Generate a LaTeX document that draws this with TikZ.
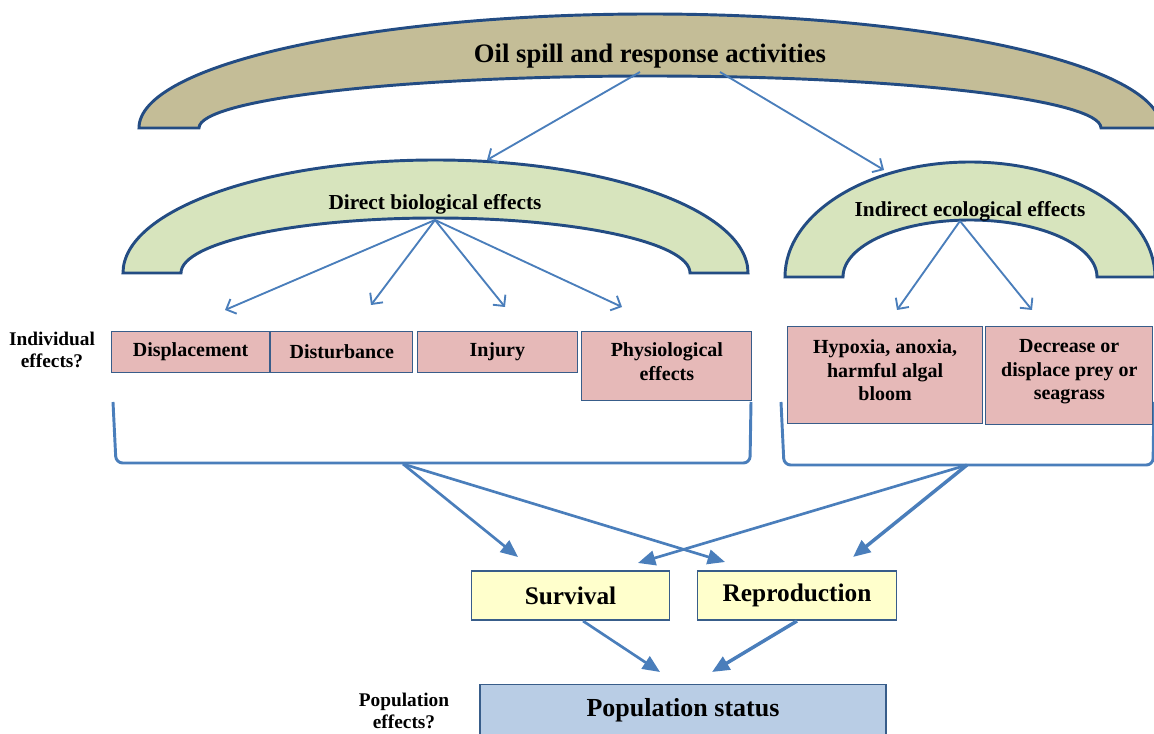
\documentclass[tikz,border=0pt]{standalone}
\usepackage{fontspec}
\setmainfont{Liberation Serif}
\usepackage{xcolor}
\usepackage{tikz}
\usetikzlibrary{positioning}
\usetikzlibrary{arrows.meta}
\definecolor{archline}{RGB}{35,76,131}
\definecolor{arrowblue}{RGB}{74,126,187}
\definecolor{tanfill}{RGB}{196,189,151}
\definecolor{greenfill}{RGB}{215,228,189}
\definecolor{pinkfill}{RGB}{230,185,184}
\definecolor{yellowfill}{RGB}{255,255,204}
\definecolor{popfill}{RGB}{185,205,229}
\definecolor{boxline}{RGB}{56,93,138}
\tikzstyle{arch} = [line width=2.2pt,draw=archline]
\tikzstyle{bracket} = [line width=2.2pt,draw=arrowblue,rounded corners=5pt]
\tikzstyle{arrow} = [line width=1.4pt,draw=arrowblue,-{Straight Barb[length=6pt,width=12pt]}]
\tikzstyle{bigarrow} = [line width=2pt,draw=arrowblue,-{Triangle[length=13pt,width=11pt]}]
\tikzstyle{pinkbox} = [draw=boxline,fill=pinkfill,line width=0.9pt,inner sep=0pt,align=center,font=\fontsize{15}{17.6}\selectfont\bfseries]
\tikzstyle{fitbox} = [draw=boxline,fill=yellowfill,line width=0.9pt,inner sep=0pt,minimum width=149pt,minimum height=36.75pt,font=\fontsize{19}{22}\selectfont\bfseries]
\tikzstyle{sidelabel} = [align=center,inner sep=0pt,font=\fontsize{14.5}{17}\selectfont\bfseries]

\begin{document}
\begin{tikzpicture}[x=0.75pt,y=-0.75pt]
\useasboundingbox (0,0) rectangle (1154,734);

%Arches
\filldraw[arch,fill=tanfill] (139,128) arc[start angle=180,end angle=360,x radius=511,y radius=114] -- (1101,128) arc[start angle=0,end angle=-180,x radius=451,y radius=52] -- cycle;
\filldraw[arch,fill=greenfill] (123,273) arc[start angle=180,end angle=360,x radius=312.5,y radius=113] -- (690,273) arc[start angle=0,end angle=-180,x radius=254.5,y radius=55] -- cycle;
\filldraw[arch,fill=greenfill] (785,277) arc[start angle=180,end angle=360,x radius=185,y radius=115] -- (1097,277) arc[start angle=0,end angle=-180,x radius=127,y radius=57] -- cycle;

%Brackets
\draw[bracket] (113,402) -- (116,463) -- (750,463) -- (751,402);
\draw[bracket] (781,402) -- (784,465) -- (1153,465) -- (1154,402);

%Nodes
\node[font=\fontsize{20}{24}\selectfont\bfseries] (oil) at (650,56) {Oil spill and response activities};
\node[font=\fontsize{16}{19}\selectfont\bfseries] (direct) at (435,204) {Direct biological effects};
\node[font=\fontsize{16}{19}\selectfont\bfseries] (indirect) at (970,211) {Indirect ecological effects};

\node[sidelabel] (indiv) at (52,350) {Individual\\effects?};
\node[pinkbox,minimum width=118.5pt,minimum height=30.75pt,anchor=north west] (displ) at (111,331) {Displacement};
\node[pinkbox,minimum width=106.5pt,minimum height=30.75pt,right=0pt of displ] (disturb) {Disturbance};
\node[pinkbox,minimum width=120pt,minimum height=30.75pt,right=2.5pt of disturb] (injury) {Injury};
\node[pinkbox,minimum width=127.5pt,minimum height=51.75pt,text depth=7pt,right=2.5pt of injury.north east,anchor=north west] (physio) {Physiological\\effects};
\node[pinkbox,minimum width=146.25pt,minimum height=72.75pt,text depth=7.5pt,anchor=north west] (hypoxia) at (787,326) {Hypoxia, anoxia,\\harmful algal\\bloom};
\node[pinkbox,minimum width=125.25pt,minimum height=73.5pt,text depth=9pt,right=1.5pt of hypoxia.north east,anchor=north west] (prey) {Decrease or\\displace prey or\\seagrass};

\node[fitbox] (surv) at (570.5,595.5) {Survival};
\node[fitbox,right=20pt of surv] (repro) {Reproduction};

\node[sidelabel,font=\fontsize{14.5}{16.5}\selectfont\bfseries] (popeff) at (404,711) {Population\\effects?};
\node[draw=boxline,fill=popfill,line width=0.9pt,inner sep=0pt,minimum width=304.5pt,text height=24pt,text depth=30pt,anchor=north,font=\fontsize{19.5}{23}\selectfont\bfseries] (pop) at (683,684) {Population status};

%Coordinates
\coordinate (oilL) at (640,72);
\coordinate (oilR) at (720,72);
\coordinate (dirS) at (435,220);
\coordinate (indS) at (960,221);
\coordinate (lbr) at (403,464);
\coordinate (rbr) at (967,465);
\coordinate (survS) at (583,621);
\coordinate (reproS) at (797,621);

%Lines
\draw[arrow] (oilL) -- (487,160);
\draw[arrow] (oilR) -- (884,170);
\draw[arrow] (dirS) -- (225,310);
\draw[arrow] (dirS) -- (371,305);
\draw[arrow] (dirS) -- (505,307);
\draw[arrow] (dirS) -- (622,307);
\draw[arrow] (indS) -- (897,310);
\draw[arrow] (indS) -- (1032,310);

\draw[bigarrow] (lbr) -- (518,557);
\draw[bigarrow] (lbr) -- (725,562);
\draw[bigarrow] (rbr) -- (638,563);
\draw[bigarrow,line width=2.6pt] (rbr) -- (853,557);
\draw[bigarrow] (survS) -- (660,672);
\draw[bigarrow,line width=2.6pt] (reproS) -- (712,672);

\end{tikzpicture}
\end{document}
